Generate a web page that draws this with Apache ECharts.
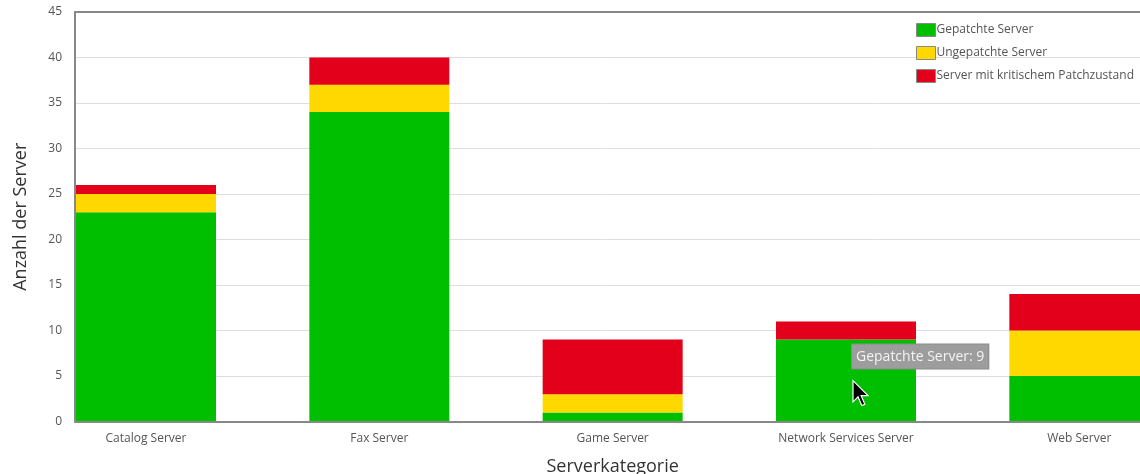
<!DOCTYPE html>
<html>
<head>
<meta charset="utf-8">
<script src="https://cdn.jsdelivr.net/npm/echarts@6/dist/echarts.min.js"></script>
<style>
  html, body { margin: 0; padding: 0; background: #fff; }
  #chart { width: 1140px; height: 474px; }
</style>
</head>
<body>
<div id="chart"></div>
<script>
// Server categories on the x axis
const categories = ['Catalog Server', 'Fax Server', 'Game Server', 'Network Services Server', 'Web Server'];

// Server counts per patch state (stacked)
const patched   = [23, 34, 1, 9, 5];
const unpatched = [2, 3, 2, 0, 5];
const critical  = [1, 3, 6, 2, 4];

const seriesNames = ['Gepatchte Server', 'Ungepatchte Server', 'Server mit kritischem Patchzustand'];
const seriesColors = ['#00bf00', '#ffd800', '#e2001a'];

// Y axis range
const yMin = 0, yMax = 45, yStep = 5;

// Hovered bar shown with its tooltip
const hoverIndex = 3;
const hoverSeries = 0;

const FONT = '"Open Sans", "Noto Sans", sans-serif';
const chart = echarts.init(document.getElementById('chart'), null, { renderer: 'canvas' });

const option = {
  animation: false,
  textStyle: { fontFamily: FONT },
  legend: {
    orient: 'vertical',
    left: 916,
    top: 23,
    padding: 0,
    itemWidth: 19,
    itemHeight: 13,
    itemGap: 9,
    selectedMode: false,
    icon: 'rect',
    itemStyle: { borderColor: '#888', borderWidth: 1 },
    textStyle: { fontFamily: FONT, fontSize: 12, color: '#555', padding: [0, 0, 0, -4] },
    data: seriesNames
  },
  grid: [
    // bar area: bands of equal width, the last one running past the right edge
    { left: 29.33, width: 1166.67, top: 12, bottom: 52.5, outerBoundsMode: 'none', containLabel: false },
    // frame with value axis and grid lines
    { left: 75, right: 0, top: 12, bottom: 52.5, outerBoundsMode: 'none', containLabel: false }
  ],
  xAxis: [
    {
      type: 'category', gridIndex: 0, data: categories,
      axisLine: { show: false }, axisTick: { show: false },
      axisLabel: { fontFamily: FONT, fontSize: 12, color: '#555', margin: 11 },
      name: 'Serverkategorie', nameLocation: 'middle', nameGap: 36,
      nameTextStyle: { fontFamily: FONT, fontSize: 18, color: '#333' }
    },
    {
      type: 'value', gridIndex: 1, position: 'bottom', min: 0, max: 1,
      axisLine: { show: true, lineStyle: { color: '#888', width: 2 } },
      axisTick: { show: false }, axisLabel: { show: false }, splitLine: { show: false }, z: 5
    },
    {
      type: 'value', gridIndex: 1, position: 'top', min: 0, max: 1,
      axisLine: { show: true, lineStyle: { color: '#888', width: 2 } },
      axisTick: { show: false }, axisLabel: { show: false }, splitLine: { show: false }, z: 5
    }
  ],
  yAxis: [
    {
      type: 'value', gridIndex: 0, min: yMin, max: yMax, interval: yStep, show: false
    },
    {
      type: 'value', gridIndex: 1, min: yMin, max: yMax, interval: yStep,
      axisLine: { show: true, lineStyle: { color: '#888', width: 2 } },
      axisTick: { show: false },
      axisLabel: { fontFamily: FONT, fontSize: 12, color: '#555', margin: 13 },
      splitLine: { show: true, lineStyle: { color: '#dedede', width: 1 } },
      name: 'Anzahl der Server', nameLocation: 'middle', nameGap: 45,
      nameTextStyle: { fontFamily: FONT, fontSize: 18, color: '#333' }
    }
  ],
  series: [patched, unpatched, critical].map((vals, i) => ({
    name: seriesNames[i],
    type: 'bar',
    stack: 'server',
    xAxisIndex: 0,
    yAxisIndex: 0,
    barWidth: '60%',
    itemStyle: { color: seriesColors[i] },
    data: vals
  }))
};

chart.setOption(option);

// Tooltip box and mouse pointer over the hovered bar
const hoverValue = [patched, unpatched, critical][hoverSeries][hoverIndex];
const anchor = chart.convertToPixel({ xAxisIndex: 0, yAxisIndex: 0 }, [categories[hoverIndex], hoverValue]);
const tipText = seriesNames[hoverSeries] + ': ' + hoverValue;
const cx = anchor[0] + 7, cy = anchor[1] + 41;
const s = 1.25;
const arrow = [[0,0],[0,17],[4,13],[7,20],[9.5,19],[6.5,12],[12,12]].map(p => [cx + p[0]*s, cy + p[1]*s]);

chart.setOption({
  graphic: [
    {
      type: 'text',
      left: anchor[0] + 5,
      top: anchor[1] + 4,
      z: 100,
      style: {
        text: tipText,
        font: '14px ' + FONT,
        fill: '#f4f4f4',
        backgroundColor: '#9d9d9d',
        borderColor: '#8a8a8a',
        borderWidth: 1,
        padding: [5, 4, 5, 4]
      }
    },
    {
      type: 'polygon',
      z: 101,
      shape: { points: arrow },
      style: { fill: '#000', stroke: '#fff', lineWidth: 1.2 }
    }
  ]
});
</script>
</body>
</html>
